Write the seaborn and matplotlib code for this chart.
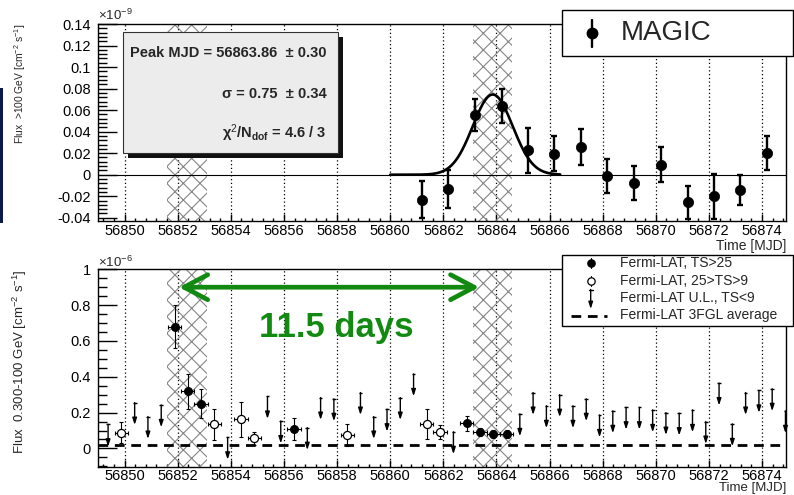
import numpy as np
import pandas as pd
import matplotlib
matplotlib.use("Agg")
import matplotlib.pyplot as plt
import seaborn as sns
from matplotlib.patches import Rectangle, FancyArrowPatch
from matplotlib.lines import Line2D
from matplotlib.ticker import MultipleLocator, FuncFormatter

# ---------------- data ----------------
# MAGIC nightly flux above 100 GeV (units of 1e-9 cm^-2 s^-1)
magic_mjd = [56861.18, 56862.18, 56863.20, 56864.20, 56865.20, 56866.18, 56867.17,
             56868.18, 56869.17, 56870.18, 56871.20, 56872.18, 56873.18, 56874.17]
magic_flux = [-0.0232, -0.0133, 0.0557, 0.0640, 0.0225, 0.0195, 0.0257,
              -0.0010, -0.0077, 0.0093, -0.0257, -0.0200, -0.0140, 0.0200]
magic_err = [0.017, 0.018, 0.015, 0.016, 0.021, 0.016, 0.017,
             0.0157, 0.0155, 0.016, 0.0155, 0.021, 0.014, 0.016]

# Gaussian fit to the MAGIC flare
fit_peak, fit_peak_err = 56863.86, 0.30
fit_sigma, fit_sigma_err = 0.75, 0.34
fit_amp = 0.0745
fit_chi2, fit_ndof = 4.6, 3
fit_range = (56860.0, 56866.4)

# Fermi-LAT 0.3-100 GeV, 12-h bins (units of 1e-6 cm^-2 s^-1)
lat_bin_half = 0.25
lat_det_mjd = [56851.88, 56852.38, 56852.88, 56856.38, 56862.88, 56863.38, 56863.88, 56864.38]
lat_det_flux = [0.680, 0.318, 0.250, 0.108, 0.140, 0.093, 0.080, 0.080]
lat_det_err = [0.120, 0.098, 0.080, 0.063, 0.042, 0.022, 0.024, 0.021]

lat_mid_mjd = [56849.88, 56853.38, 56854.38, 56854.88, 56858.38, 56861.38, 56861.88]
lat_mid_flux = [0.088, 0.135, 0.163, 0.056, 0.075, 0.135, 0.093]
lat_mid_err = [0.058, 0.086, 0.098, 0.035, 0.060, 0.085, 0.040]

lat_ul_mjd = [56849.38, 56850.38, 56850.88, 56851.38, 56853.88, 56855.38, 56855.88,
              56856.88, 56857.38, 56857.88, 56858.88, 56859.38, 56859.88, 56860.38,
              56860.88, 56862.38, 56864.88, 56865.38, 56865.88, 56866.38, 56866.88,
              56867.38, 56867.88, 56868.38, 56868.88, 56869.38, 56869.88, 56870.38,
              56870.88, 56871.38, 56871.88, 56872.38, 56872.88, 56873.38, 56873.88,
              56874.38, 56874.88]
lat_ul_flux = [0.135, 0.256, 0.178, 0.243, 0.062, 0.290, 0.153,
               0.116, 0.284, 0.277, 0.312, 0.178, 0.219, 0.284,
               0.416, 0.093, 0.193, 0.312, 0.238, 0.300, 0.238,
               0.277, 0.187, 0.210, 0.230, 0.230, 0.215, 0.200,
               0.197, 0.215, 0.150, 0.365, 0.137, 0.312, 0.324,
               0.333, 0.210]
lat_3fgl = 0.02

# flare windows
flare1 = (56851.6, 56853.1)
flare_gap = 11.5
flare2 = (flare1[0] + flare_gap, flare1[1] + flare_gap)

# ---------------- style ----------------
sns.set_theme(style="ticks")
plt.rcParams["font.family"] = ["Liberation Sans", "DejaVu Sans"]
plt.rcParams.update({
    "mathtext.fontset": "custom",
    "mathtext.rm": "Liberation Sans",
    "mathtext.it": "Liberation Sans:italic",
    "mathtext.bf": "Liberation Sans:bold",
    "axes.edgecolor": "black",
    "axes.linewidth": 1.0,
    "hatch.linewidth": 0.8,
    "xtick.color": "black",
    "ytick.color": "black",
})

W, H = 794, 495
fig = plt.figure(figsize=(W / 100, H / 100), dpi=100)
fig.patch.set_facecolor("white")


def fx(x):
    return x / W


def fy(y):
    return 1 - y / H


ax1 = fig.add_axes([fx(98), fy(221), (786 - 98) / W, (221 - 24) / H])
ax2 = fig.add_axes([fx(98), fy(466.7), (786 - 98) / W, (466.7 - 269.3) / H])

XLIM = (56849.0, 56874.9)
GREEN = "#128a12"
HATCH_C = "#858585"

fmt_num = FuncFormatter(lambda v, p: f"{round(v, 4) + 0.0:g}")

for ax in (ax1, ax2):
    ax.set_facecolor("white")
    ax.set_xlim(*XLIM)
    for band in (flare1, flare2):
        ax.axvspan(band[0], band[1], facecolor="none", edgecolor=HATCH_C,
                   hatch="xx", lw=0, zorder=1)
    ax.xaxis.set_major_locator(MultipleLocator(2))
    ax.xaxis.set_minor_locator(MultipleLocator(0.4))
    ax.xaxis.set_major_formatter(FuncFormatter(lambda v, p: f"{v:.0f}"))
    ax.yaxis.set_major_formatter(fmt_num)
    ax.grid(axis="x", which="major", ls=(0, (1, 2)), color="black", lw=0.9, zorder=0)
    ax.set_axisbelow(True)
    ax.tick_params(axis="both", which="both", direction="in", labelsize=10.5,
                   top=False, right=False, width=1.0)
    ax.tick_params(axis="y", which="major", length=13.5, pad=5)
    ax.tick_params(axis="y", which="minor", length=6.5)
    ax.tick_params(axis="x", which="major", length=5, pad=2)
    ax.tick_params(axis="x", which="minor", length=2.5)
    for s in ax.spines.values():
        s.set_visible(True)
        s.set_color("black")
        s.set_linewidth(1.0)
    ax.set_xlabel("")

# ---------------- top panel: MAGIC ----------------
ax1.set_ylim(-0.043, 0.14)
ax1.yaxis.set_major_locator(MultipleLocator(0.02))
ax1.yaxis.set_minor_locator(MultipleLocator(0.004))
ax1.axhline(0, color="black", lw=0.8, zorder=2)

xs = np.linspace(fit_range[0], fit_range[1], 400)
fit_df = pd.DataFrame({"mjd": xs,
                       "flux": fit_amp * np.exp(-0.5 * ((xs - fit_peak) / fit_sigma) ** 2)})
sns.lineplot(data=fit_df, x="mjd", y="flux", ax=ax1, color="black", lw=1.9, zorder=3)

magic_df = pd.DataFrame({"mjd": magic_mjd, "flux": magic_flux, "err": magic_err})
ax1.errorbar(magic_df["mjd"], magic_df["flux"], yerr=magic_df["err"], fmt="none",
             ecolor="black", elinewidth=1.7, capsize=2.2, capthick=1.7, zorder=4)
sns.scatterplot(data=magic_df, x="mjd", y="flux", ax=ax1, color="black", s=55,
                edgecolor="black", linewidth=0.5, zorder=5, legend=False)
ax1.set_xlabel("")
ax1.set_ylabel("Flux  >100 GeV [cm$^{-2}$ s$^{-1}$]", fontsize=7.4, loc="top")
ax1.yaxis.set_label_coords((28 - 98) / 688, 1.0)

# ---------------- bottom panel: Fermi-LAT ----------------
ax2.set_ylim(-0.102, 1.0)
ax2.yaxis.set_major_locator(MultipleLocator(0.2))
ax2.yaxis.set_minor_locator(MultipleLocator(0.05))

ax2.axhline(lat_3fgl, color="black", lw=2.0, ls=(0, (3.5, 2.4)), zorder=3)

det_df = pd.DataFrame({"mjd": lat_det_mjd, "flux": lat_det_flux, "err": lat_det_err})
mid_df = pd.DataFrame({"mjd": lat_mid_mjd, "flux": lat_mid_flux, "err": lat_mid_err})
for df in (det_df, mid_df):
    ax2.errorbar(df["mjd"], df["flux"], yerr=df["err"], xerr=lat_bin_half, fmt="none",
                 ecolor="black", elinewidth=0.8, capsize=1.6, capthick=0.8, zorder=4)
sns.scatterplot(data=det_df, x="mjd", y="flux", ax=ax2, color="black", s=32,
                edgecolor="black", linewidth=0.8, zorder=5, legend=False)
sns.scatterplot(data=mid_df, x="mjd", y="flux", ax=ax2, color="white", s=34,
                edgecolor="black", linewidth=0.9, zorder=5, legend=False)

# upper limits: cap at the limit, arrow pointing down
ul_len = 0.125
ul_style = "-|>,head_length=0.4,head_width=0.13"
for t, f in zip(lat_ul_mjd, lat_ul_flux):
    ax2.annotate("", xy=(t, f - ul_len), xytext=(t, f),
                 arrowprops=dict(arrowstyle=ul_style, mutation_scale=10, lw=1.0,
                                 color="black", shrinkA=0, shrinkB=0), zorder=4)
ax2.hlines(lat_ul_flux, np.array(lat_ul_mjd) - 0.07, np.array(lat_ul_mjd) + 0.07,
           color="black", lw=1.0, zorder=4)

# separation between the two flares
ax2.annotate("", xy=(56852.05, 0.90), xytext=(56863.35, 0.90),
             arrowprops=dict(arrowstyle="<->,head_length=0.85,head_width=0.45",
                             mutation_scale=20, lw=3.4, color=GREEN,
                             shrinkA=0, shrinkB=0), zorder=6)
ax2.text(56857.96, 0.675, f"{flare_gap:g} days", color=GREEN, fontsize=25,
         fontweight="bold", ha="center", va="center", zorder=6)

ax2.set_xlabel("")
ax2.set_ylabel("Flux  0.300-100 GeV [cm$^{-2}$ s$^{-1}$]", fontsize=9.5, loc="top")
ax2.yaxis.set_label_coords((29 - 98) / 688, 1.0)

# ---------------- annotations in figure space ----------------
fig.text(fx(98), fy(15), "×10$^{-9}$", fontsize=9.5, ha="left", va="center")
fig.text(fx(98), fy(262), "×10$^{-6}$", fontsize=9.5, ha="left", va="center")
fig.text(fx(786), fy(246), "Time [MJD]", fontsize=10, ha="right", va="center")
fig.text(fx(786), fy(488), "Time [MJD]", fontsize=9.5, ha="right", va="center")

# fit-result box with drop shadow
def fig_rect(x0, y0, x1, y1, **kw):
    r = Rectangle((fx(x0), fy(y1)), (x1 - x0) / W, (y1 - y0) / H,
                  transform=fig.transFigure, **kw)
    fig.add_artist(r)
    return r

fig_rect(127.7, 37, 343, 158, facecolor="#111111", edgecolor="none", zorder=10)
fig_rect(122.7, 32, 338, 153, facecolor="#ececec", edgecolor="#333333", lw=0.8, zorder=11)
fit_lines = [
    (53, f"Peak MJD = {fit_peak:.2f}  ± {fit_peak_err:.2f}"),
    (94, f"σ = {fit_sigma:.2f}  ± {fit_sigma_err:.2f}"),
    (133, f"χ$^{{2}}$/N$_{{\\mathbf{{dof}}}}$ = {fit_chi2:g} / {fit_ndof}"),
]
for ypx, s in fit_lines:
    fig.text(fx(327), fy(ypx), s, fontsize=10.5, fontweight="bold", ha="right",
             va="center", zorder=12)

# MAGIC legend
fig_rect(561.7, 10, 793, 56, facecolor="white", edgecolor="black", lw=1.0, zorder=10)
fig.add_artist(Line2D([fx(591.7)] * 2, [fy(20), fy(46.5)], color="black", lw=1.7,
                      transform=fig.transFigure, zorder=11))
fig.add_artist(Line2D([fx(591.7)], [fy(33)], marker="o", ms=7.5, mfc="black",
                      mec="black", ls="none", transform=fig.transFigure, zorder=12))
fig.text(fx(620.7), fy(33.5), "MAGIC", fontsize=20, ha="left", va="center", zorder=12)

# Fermi-LAT legend
fig_rect(562, 255, 793, 326, facecolor="white", edgecolor="black", lw=1.0, zorder=10)
leg_x, leg_tx = 590.7, 620
entries = [(263.3, "Fermi-LAT, TS>25"), (281, "Fermi-LAT, 25>TS>9"),
           (298, "Fermi-LAT U.L., TS<9"), (315.5, "Fermi-LAT 3FGL average")]
for ypx, lab in entries:
    fig.text(fx(leg_tx), fy(ypx), lab, fontsize=10, ha="left", va="center", zorder=12)
for ypx, fc in ((263.3, "black"), (281, "white")):
    fig.add_artist(Line2D([fx(leg_x)] * 2, [fy(ypx - 5), fy(ypx + 5)], color="black",
                          lw=0.8, transform=fig.transFigure, zorder=11))
    fig.add_artist(Line2D([fx(leg_x)], [fy(ypx)], marker="o", ms=5.3, mfc=fc,
                          mec="black", mew=0.9, ls="none", transform=fig.transFigure,
                          zorder=12))
fig.add_artist(FancyArrowPatch((fx(leg_x), fy(289.5)), (fx(leg_x), fy(309)),
                               transform=fig.transFigure, arrowstyle=ul_style,
                               mutation_scale=10, lw=1.0, color="black",
                               shrinkA=0, shrinkB=0, zorder=12))
fig.add_artist(Line2D([fx(leg_x - 2), fx(leg_x + 2)], [fy(289.5)] * 2, color="black",
                      lw=1.0, transform=fig.transFigure, zorder=12))
fig.add_artist(Line2D([fx(570.7), fx(607)], [fy(315.5)] * 2, color="black", lw=2.0,
                      ls=(0, (3.5, 2.4)), transform=fig.transFigure, zorder=12))

# strip at the left border
fig_rect(0, 88, 3, 223, facecolor="#0b1a4a", edgecolor="none", zorder=10)

fig.savefig("out.png", dpi=100)
